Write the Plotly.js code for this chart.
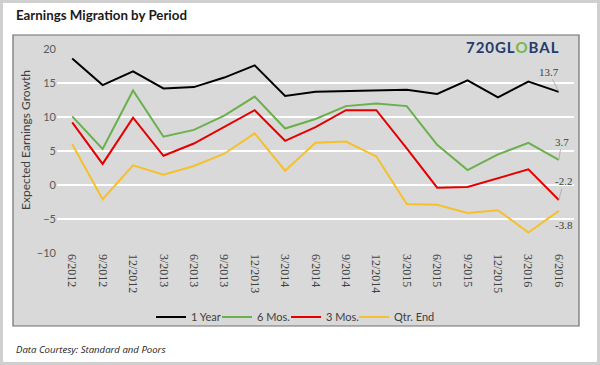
<!DOCTYPE html>
<html>
<head>
<meta charset="utf-8">
<script src="https://cdn.plot.ly/plotly-3.0.1.min.js"></script>
<style>html,body{margin:0;padding:0;background:#fff;}#chart{width:600px;height:365px;}</style>
</head>
<body>
<div id="chart"></div>
<script>
var periods = ["6/2012","9/2012","12/2012","3/2013","6/2013","9/2013","12/2013","3/2014","6/2014","9/2014","12/2014","3/2015","6/2015","9/2015","12/2015","3/2016","6/2016"];
var oneYear = [18.6,14.7,16.7,14.2,14.4,15.8,17.6,13.1,13.7,13.8,13.8,14.0,13.4,15.4,12.9,15.2,13.7];
var sixMos  = [10.1,5.3,13.9,7.1,8.1,10.2,13.0,8.3,9.7,11.6,12.0,11.6,5.9,2.2,4.5,6.2,3.7];
var threeMos= [9.2,3.1,9.9,4.3,6.1,8.5,11.0,6.5,8.5,11.0,11.0,5.4,-0.4,-0.3,1.0,2.3,-2.2];
var qtrEnd  = [6.0,-2.1,2.9,1.5,2.8,4.6,7.6,2.1,6.2,6.4,4.2,-2.8,-2.9,-4.1,-3.7,-7.0,-3.8];
var seriesNames = ["1 Year","6 Mos.","3 Mos.","Qtr. End"];
var seriesColors = ["#000000","#6ab04c","#e50000","#f5c02c"];
var seriesData = [oneYear, sixMos, threeMos, qtrEnd];

var W = 600, H = 365;
var M = {l:57, r:26, t:49, b:112};
var PW = W - M.l - M.r, PH = H - M.t - M.b;
function px(x){return (x - M.l)/PW;}
function py(y){return (H - M.b - y)/PH;}

var legendIds = ['legend','legend2','legend3','legend4'];
var legendTextX = [193, 259, 328, 396];

var traces = seriesData.map(function(d,i){
  return {x: periods, y: d, type:'scatter', mode:'lines', name: seriesNames[i],
          legend: legendIds[i],
          line:{color: seriesColors[i], width:2}, hoverinfo:'skip'};
});

var last = periods[periods.length-1];
var endOffsets = [[-10,-20,true],[3,-18,true],[5,-19,true],[5,14,false]];
var annotations = seriesData.map(function(d,i){
  var v = d[d.length-1];
  return {x: last, y: v, xref:'x', yref:'y', text: v.toFixed(1),
          showarrow:true, ax: endOffsets[i][0], ay: endOffsets[i][1],
          arrowhead:0, arrowwidth:0.8,
          arrowcolor: endOffsets[i][2] ? '#a6a6a6' : 'rgba(0,0,0,0)',
          font:{family:'Liberation Serif, serif', size:11, color:'#404040'}};
});
annotations.push({xref:'paper', yref:'paper', x:px(25), y:py(140), text:'Expected Earnings Growth',
  textangle:-90, showarrow:false, xanchor:'center', yanchor:'middle',
  font:{family:'Lato, sans-serif', size:12, color:'#404040'}});
annotations.push({xref:'paper', yref:'paper', x:px(14), y:py(15), text:'<b>Earnings Migration by Period</b>',
  showarrow:false, xanchor:'left', yanchor:'middle',
  font:{family:'Lato, sans-serif', size:13.3, color:'#1a1a1a'}});
annotations.push({xref:'paper', yref:'paper', x:px(14), y:py(349), text:'<i>Data Courtesy: Standard and Poors</i>',
  showarrow:false, xanchor:'left', yanchor:'middle',
  font:{family:'Open Sans, sans-serif', size:9.6, color:'#222222'}});
annotations.push({xref:'paper', yref:'paper', x:px(512), y:py(47),
  text:'<b>7\u200A2\u200A0\u200AG\u200AL\u200A<span style="color:#7ab648">O</span>\u200AB\u200AA\u200AL</b>',
  showarrow:false, xanchor:'center', yanchor:'middle',
  font:{family:'Lato, sans-serif', size:15, color:'#243b6b'}});

var layout = {
  width: W, height: H,
  paper_bgcolor:'#ffffff', plot_bgcolor:'#d9d9d9',
  margin: M,
  showlegend:true,
  xaxis:{type:'category', range:[-0.5, periods.length-0.5], tickangle:90, showgrid:false,
         zeroline:false, showline:false, ticks:'', fixedrange:true,
         tickfont:{family:'Liberation Serif, serif', size:12, color:'#404040'}},
  yaxis:{range:[-10,20], dtick:5, showgrid:true, gridcolor:'#ffffff', gridwidth:1.3,
         zeroline:false, showline:false, ticks:'', fixedrange:true,
         tickfont:{family:'Lato, sans-serif', size:11, color:'#595959'}},
  shapes:[
    {type:'rect', xref:'paper', yref:'paper', x0:px(1.5), x1:px(598.5), y0:py(363.5), y1:py(1.5),
     line:{color:'#cfcfcf', width:3}, fillcolor:'rgba(0,0,0,0)', layer:'below'},
    {type:'rect', xref:'paper', yref:'paper', x0:px(13), x1:px(579), y0:py(326), y1:py(35),
     line:{color:'#6e6e6e', width:1.2}, fillcolor:'#d9d9d9', layer:'below'}
  ],
  annotations: annotations
};
legendIds.forEach(function(id, i){
  layout[id] = {orientation:'h', x:(legendTextX[i]-42)/W, xanchor:'left', xref:'container',
    y:1 - 317/H, yanchor:'middle', yref:'container', bgcolor:'rgba(0,0,0,0)',
    font:{family:'Lato, sans-serif', size:11, color:'#404040'}, itemwidth:30};
});

Plotly.newPlot('chart', traces, layout, {displayModeBar:false, staticPlot:true});
</script>
</body>
</html>
